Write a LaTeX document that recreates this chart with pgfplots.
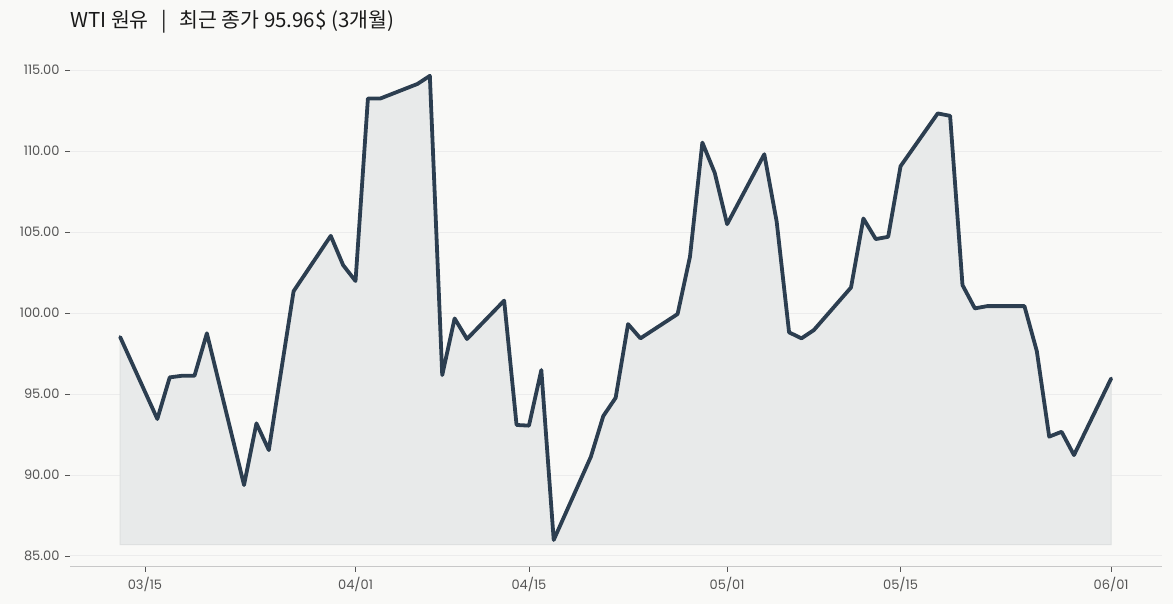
\documentclass[border=0pt]{standalone}
\usepackage{fontspec}
\usepackage{pgfplots}
\pgfplotsset{compat=1.18}
\usepgfplotslibrary{fillbetween}
\newfontfamily\krfont{Noto Sans CJK KR}
\newfontfamily\tickfont{Poppins}
\definecolor{bg}{RGB}{249,249,247}
\definecolor{linec}{RGB}{44,62,80}
\definecolor{fillc}{RGB}{232,234,234}
\definecolor{edgec}{RGB}{222,224,224}
\definecolor{gridc}{RGB}{236,236,236}
\definecolor{axc}{RGB}{200,200,200}
\definecolor{tickc}{RGB}{85,85,85}
\definecolor{titlec}{RGB}{25,25,25}
\pgfplotstableread{
d y
12 98.52
15 93.46
16 96.03
17 96.13
18 96.13
19 98.75
22 89.38
23 93.19
24 91.54
26 101.35
29 104.77
30 102.96
31 101.98
32 113.25
33 113.25
36 114.15
37 114.65
38 96.17
39 99.67
40 98.40
43 100.77
44 93.09
45 93.05
46 96.48
47 85.99
50 91.13
51 93.64
52 94.77
53 99.32
54 98.44
57 99.94
58 103.48
59 110.53
60 108.66
61 105.49
64 109.81
65 105.64
66 98.81
67 98.44
68 98.95
71 101.58
72 105.84
73 104.57
74 104.71
75 109.07
78 112.33
79 112.18
80 101.73
81 100.29
82 100.43
85 100.43
86 97.65
87 92.37
88 92.67
89 91.23
92 95.96
}\wti
\pagecolor{bg}
\begin{document}
\begin{tikzpicture}[x=1pt,y=1pt]
\path (0,0) rectangle (1173,604);
\node[anchor=base west, inner sep=0pt, text=titlec, font=\krfont\fontsize{20.5}{22}\selectfont] at (70,576) {WTI 원유 \ \,|\ \, 최근 종가 95.96\$ (3개월)};
\begin{axis}[
  at={(70pt,37pt)}, anchor=south west,
  scale only axis, width=1092pt, height=513pt,
  xmin=7.95, xmax=96.1, ymin=84.32, ymax=116,
  axis x line*=bottom, axis y line*=left,
  x axis line style={draw=axc, line width=1pt},
  y axis line style={draw=none},
  xtick={14,31,45,61,75,92},
  xticklabels={03/15,04/01,04/15,05/01,05/15,06/01},
  ytick={85,90,95,100,105,110,115},
  yticklabel={\pgfmathprintnumber[fixed,fixed zerofill,precision=2]{\tick}},
  /pgf/number format/assume math mode=true,
  tick align=outside, major tick length=5pt,
  tick style={draw=tickc, line width=0.8pt},
  ymajorgrids, grid style={draw=gridc, line width=1pt},
  ticklabel style={font=\tickfont\fontsize{13}{15}\selectfont, text=tickc},
  yticklabel style={xshift=-2pt},
  xticklabel style={yshift=-2pt},
  clip=false,
]
\addplot[draw=none, name path=A] table {\wti};
\addplot[draw=none, name path=B] coordinates {(12,85.7) (92,85.7)};
\addplot[fill=fillc, draw=edgec, line width=1pt] fill between[of=A and B];
\addplot[draw=linec, line width=3.8pt, line join=round, line cap=round] table {\wti};
\end{axis}
\end{tikzpicture}
\end{document}
